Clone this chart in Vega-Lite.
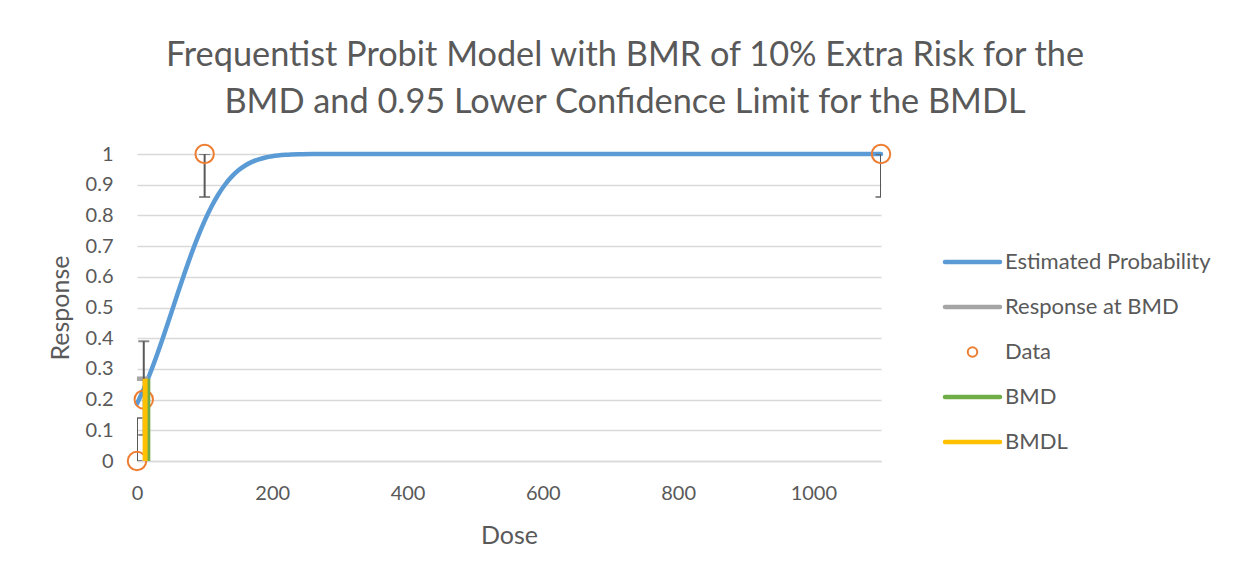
{
  "$schema": "https://vega.github.io/schema/vega-lite/v6.json",
  "width": 744,
  "height": 307,
  "autosize": {"type": "none"},
  "padding": {"left": 137, "top": 154, "right": 358, "bottom": 112},
  "background": "white",
  "config": {
    "view": {"stroke": null},
    "font": "Lato",
    "axis": {"labelFont": "Lato", "titleFont": "Lato", "labelColor": "#595959", "titleColor": "#595959", "titleFontWeight": "normal"},
    "legend": {"labelFont": "Lato"}
  },
  "title": {
    "text": ["Frequentist Probit Model with BMR of 10% Extra Risk for the", "BMD and 0.95 Lower Confidence Limit for the BMDL"],
    "fontSize": 34.3,
    "font": "Lato",
    "fontWeight": "normal",
    "color": "#595959",
    "lineHeight": 47,
    "anchor": "middle",
    "frame": "group",
    "dx": 116,
    "offset": 20
  },
  "datasets": {
    "curve": [
      {"dose": 0, "p": 0.1867, "series": "Estimated Probability"},
      {"dose": 10, "p": 0.2349, "series": "Estimated Probability"},
      {"dose": 20, "p": 0.2891, "series": "Estimated Probability"},
      {"dose": 30, "p": 0.3486, "series": "Estimated Probability"},
      {"dose": 40, "p": 0.4121, "series": "Estimated Probability"},
      {"dose": 50, "p": 0.4781, "series": "Estimated Probability"},
      {"dose": 60, "p": 0.5446, "series": "Estimated Probability"},
      {"dose": 70, "p": 0.6099, "series": "Estimated Probability"},
      {"dose": 80, "p": 0.6722, "series": "Estimated Probability"},
      {"dose": 90, "p": 0.7301, "series": "Estimated Probability"},
      {"dose": 100, "p": 0.7823, "series": "Estimated Probability"},
      {"dose": 110, "p": 0.8282, "series": "Estimated Probability"},
      {"dose": 120, "p": 0.8673, "series": "Estimated Probability"},
      {"dose": 130, "p": 0.8999, "series": "Estimated Probability"},
      {"dose": 140, "p": 0.9262, "series": "Estimated Probability"},
      {"dose": 150, "p": 0.9469, "series": "Estimated Probability"},
      {"dose": 160, "p": 0.9626, "series": "Estimated Probability"},
      {"dose": 170, "p": 0.9743, "series": "Estimated Probability"},
      {"dose": 180, "p": 0.9828, "series": "Estimated Probability"},
      {"dose": 190, "p": 0.9888, "series": "Estimated Probability"},
      {"dose": 200, "p": 0.9929, "series": "Estimated Probability"},
      {"dose": 220, "p": 0.9973, "series": "Estimated Probability"},
      {"dose": 240, "p": 0.9991, "series": "Estimated Probability"},
      {"dose": 260, "p": 0.9997, "series": "Estimated Probability"},
      {"dose": 300, "p": 1.0, "series": "Estimated Probability"},
      {"dose": 400, "p": 1.0, "series": "Estimated Probability"},
      {"dose": 600, "p": 1.0, "series": "Estimated Probability"},
      {"dose": 800, "p": 1.0, "series": "Estimated Probability"},
      {"dose": 1000, "p": 1.0, "series": "Estimated Probability"},
      {"dose": 1100, "p": 1.0, "series": "Estimated Probability"}
    ],
    "obs": [
      {"dose": 0, "resp": 0, "lo": 0, "hi": 0.14, "series": "Data"},
      {"dose": 10, "resp": 0.2, "lo": 0.085, "hi": 0.39, "series": "Data"},
      {"dose": 100, "resp": 1, "lo": 0.86, "hi": 1, "series": "Data"},
      {"dose": 1100, "resp": 1, "lo": 0.86, "hi": 1, "series": "Data"}
    ],
    "resp_bmd": [
      {"dose": 0, "y": 0.268, "series": "Response at BMD"},
      {"dose": 16, "y": 0.268, "series": "Response at BMD"}
    ],
    "bmd": [
      {"dose": 16, "y": 0, "series": "BMD"},
      {"dose": 16, "y": 0.268, "series": "BMD"}
    ],
    "bmdl": [
      {"dose": 12, "y": 0, "series": "BMDL"},
      {"dose": 12, "y": 0.268, "series": "BMDL"}
    ]
  },
  "encoding": {
    "x": {
      "field": "dose", "type": "quantitative",
      "scale": {"domain": [0, 1100], "nice": false, "zero": false},
      "axis": {
        "title": "Dose", "titleFontSize": 25, "titlePadding": 20,
        "values": [0, 200, 400, 600, 800, 1000], "format": "d",
        "labelFontSize": 20, "labelPadding": 22, "labelFlush": false,
        "grid": false, "ticks": false, "domain": true, "domainColor": "#D9D9D9", "domainWidth": 1.3
      }
    }
  },
  "layer": [
    {
      "data": {"name": "curve"},
      "mark": {"type": "line", "strokeWidth": 4.5, "strokeCap": "round", "interpolate": "monotone"},
      "encoding": {
        "y": {
          "field": "p", "type": "quantitative", "title": "Response",
          "scale": {"domain": [0, 1], "nice": false},
          "axis": {
            "title": "Response", "titleFontSize": 25, "titlePadding": 12,
            "values": [0, 0.1, 0.2, 0.3, 0.4, 0.5, 0.6, 0.7, 0.8, 0.9, 1],
            "format": "~g", "labelFontSize": 20, "labelPadding": 24, "labelOverlap": false,
            "grid": true, "gridColor": "#D9D9D9", "gridWidth": 1.3,
            "ticks": false, "domain": false
          }
        },
        "color": {
          "field": "series", "type": "nominal",
          "scale": {
            "domain": ["Estimated Probability", "Response at BMD", "Data", "BMD", "BMDL"],
            "range": ["#5B9BD5", "#A5A5A5", "#ED7D31", "#70AD47", "#FFC000"]
          },
          "legend": {
            "title": null,
            "orient": "none",
            "legendX": 824.5,
            "legendY": 97,
            "symbolType": "stroke",
            "symbolSize": 3025,
            "symbolStrokeWidth": 4,
            "labelFontSize": 22,
            "labelColor": "#595959",
            "labelOffset": 21.5,
            "rowPadding": 23,
            "labelLimit": 300,
            "encode": {
              "symbols": {
                "update": {
                  "shape": {"signal": "datum.value === 'Data' ? 'circle' : 'stroke'"},
                  "size": {"signal": "datum.value === 'Data' ? 90 : 3025"},
                  "strokeWidth": {"signal": "datum.value === 'Data' ? 2 : 4.5"},
                  "stroke": {"scale": "color", "field": "value"},
                  "fill": {"value": "transparent"},
                  "strokeCap": {"value": "round"}
                }
              }
            }
          }
        }
      }
    },
    {
      "data": {"name": "resp_bmd"},
      "mark": {"type": "line", "strokeWidth": 4.5},
      "encoding": {
        "y": {
          "field": "y", "type": "quantitative", "title": "Response",
          "axis": {
            "title": "Response", "titleFontSize": 25, "titlePadding": 12,
            "values": [0, 0.1, 0.2, 0.3, 0.4, 0.5, 0.6, 0.7, 0.8, 0.9, 1],
            "format": "~g", "labelFontSize": 20, "labelPadding": 24, "labelOverlap": false,
            "grid": true, "gridColor": "#D9D9D9", "gridWidth": 1.3,
            "ticks": false, "domain": false
          }
        },
        "color": {"field": "series", "type": "nominal"}
      }
    },
    {
      "data": {"name": "obs"},
      "mark": {"type": "rule", "color": "#595959", "strokeWidth": 2, "clip": true},
      "encoding": {
        "y": {
          "field": "lo", "type": "quantitative", "title": "Response",
          "axis": {
            "title": "Response", "titleFontSize": 25, "titlePadding": 12,
            "values": [0, 0.1, 0.2, 0.3, 0.4, 0.5, 0.6, 0.7, 0.8, 0.9, 1],
            "format": "~g", "labelFontSize": 20, "labelPadding": 24, "labelOverlap": false,
            "grid": true, "gridColor": "#D9D9D9", "gridWidth": 1.3,
            "ticks": false, "domain": false
          }
        },
        "y2": {"field": "hi"}
      }
    },
    {
      "data": {"name": "obs"},
      "mark": {"type": "tick", "orient": "horizontal", "color": "#595959", "size": 11, "thickness": 2, "clip": true},
      "encoding": {
        "y": {
          "field": "lo", "type": "quantitative", "title": "Response",
          "axis": {
            "title": "Response", "titleFontSize": 25, "titlePadding": 12,
            "values": [0, 0.1, 0.2, 0.3, 0.4, 0.5, 0.6, 0.7, 0.8, 0.9, 1],
            "format": "~g", "labelFontSize": 20, "labelPadding": 24, "labelOverlap": false,
            "grid": true, "gridColor": "#D9D9D9", "gridWidth": 1.3,
            "ticks": false, "domain": false
          }
        }
      }
    },
    {
      "data": {"name": "obs"},
      "mark": {"type": "tick", "orient": "horizontal", "color": "#595959", "size": 11, "thickness": 2, "clip": true},
      "encoding": {
        "y": {
          "field": "hi", "type": "quantitative", "title": "Response",
          "axis": {
            "title": "Response", "titleFontSize": 25, "titlePadding": 12,
            "values": [0, 0.1, 0.2, 0.3, 0.4, 0.5, 0.6, 0.7, 0.8, 0.9, 1],
            "format": "~g", "labelFontSize": 20, "labelPadding": 24, "labelOverlap": false,
            "grid": true, "gridColor": "#D9D9D9", "gridWidth": 1.3,
            "ticks": false, "domain": false
          }
        }
      }
    },
    {
      "data": {"name": "obs"},
      "mark": {"type": "point", "filled": false, "strokeWidth": 2, "size": 340, "opacity": 1},
      "encoding": {
        "y": {
          "field": "resp", "type": "quantitative", "title": "Response",
          "axis": {
            "title": "Response", "titleFontSize": 25, "titlePadding": 12,
            "values": [0, 0.1, 0.2, 0.3, 0.4, 0.5, 0.6, 0.7, 0.8, 0.9, 1],
            "format": "~g", "labelFontSize": 20, "labelPadding": 24, "labelOverlap": false,
            "grid": true, "gridColor": "#D9D9D9", "gridWidth": 1.3,
            "ticks": false, "domain": false
          }
        },
        "color": {"field": "series", "type": "nominal"}
      }
    },
    {
      "data": {"name": "bmd"},
      "mark": {"type": "line", "strokeWidth": 5},
      "encoding": {
        "y": {
          "field": "y", "type": "quantitative", "title": "Response",
          "axis": {
            "title": "Response", "titleFontSize": 25, "titlePadding": 12,
            "values": [0, 0.1, 0.2, 0.3, 0.4, 0.5, 0.6, 0.7, 0.8, 0.9, 1],
            "format": "~g", "labelFontSize": 20, "labelPadding": 24, "labelOverlap": false,
            "grid": true, "gridColor": "#D9D9D9", "gridWidth": 1.3,
            "ticks": false, "domain": false
          }
        },
        "color": {"field": "series", "type": "nominal"}
      }
    },
    {
      "data": {"name": "bmdl"},
      "mark": {"type": "line", "strokeWidth": 5},
      "encoding": {
        "y": {
          "field": "y", "type": "quantitative", "title": "Response",
          "axis": {
            "title": "Response", "titleFontSize": 25, "titlePadding": 12,
            "values": [0, 0.1, 0.2, 0.3, 0.4, 0.5, 0.6, 0.7, 0.8, 0.9, 1],
            "format": "~g", "labelFontSize": 20, "labelPadding": 24, "labelOverlap": false,
            "grid": true, "gridColor": "#D9D9D9", "gridWidth": 1.3,
            "ticks": false, "domain": false
          }
        },
        "color": {"field": "series", "type": "nominal"}
      }
    }
  ]
}
